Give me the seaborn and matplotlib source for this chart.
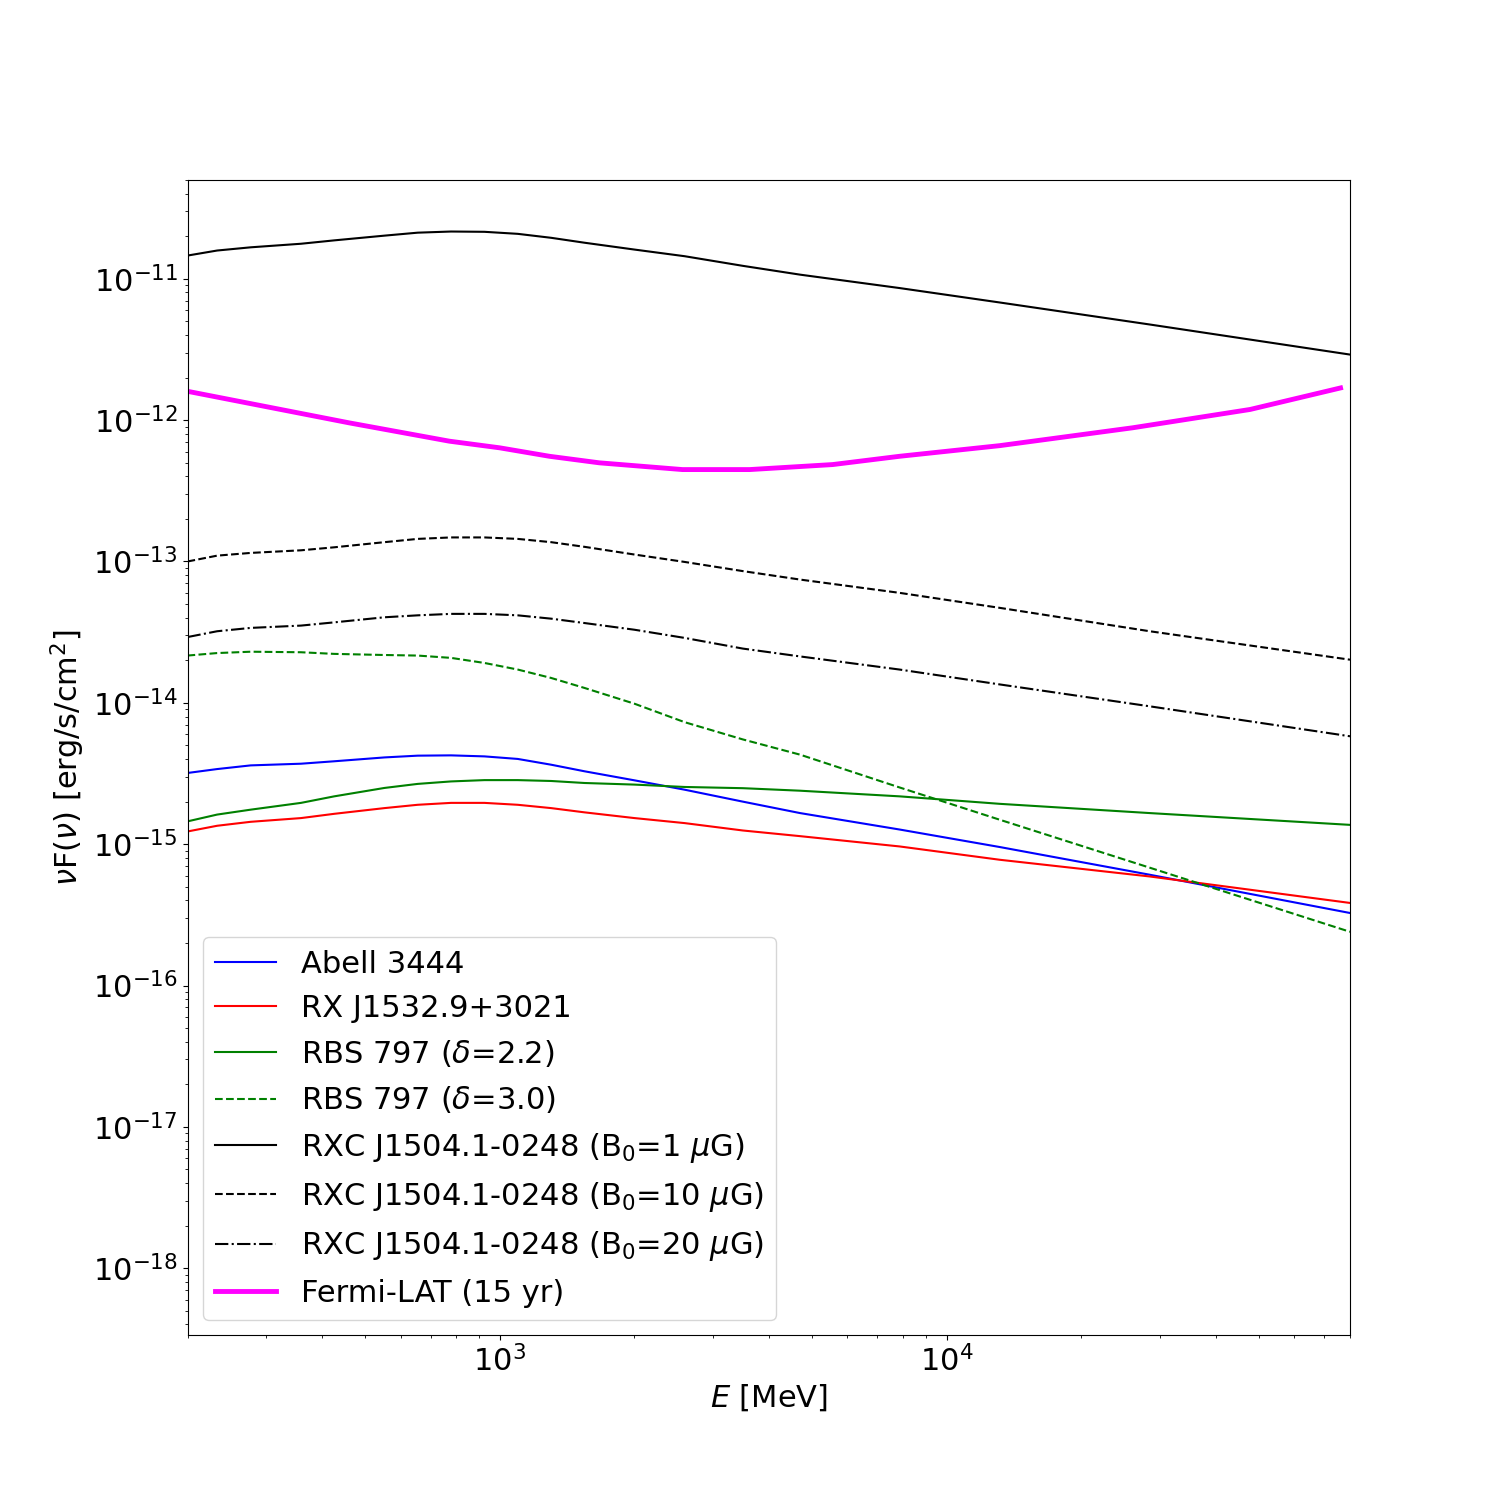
import matplotlib
matplotlib.use("Agg")
import matplotlib.pyplot as plt
import seaborn as sns
import pandas as pd

# Energies (MeV) for the model curves
energy = [200, 233, 277, 359, 426, 552, 655, 778, 924, 1097, 1303, 1547, 2002, 2592,
          3500, 4700, 7850, 13150, 28500, 80000]

abell3444 = [3.19e-15, 3.40e-15, 3.61e-15, 3.71e-15, 3.86e-15, 4.11e-15, 4.23e-15, 4.25e-15,
             4.18e-15, 4.01e-15, 3.65e-15, 3.28e-15, 2.83e-15, 2.43e-15,
             2.00e-15, 1.66e-15, 1.27e-15, 9.55e-16, 6.08e-16, 3.26e-16]
rxj1532 = [1.23e-15, 1.35e-15, 1.44e-15, 1.53e-15, 1.64e-15, 1.80e-15, 1.90e-15, 1.96e-15,
           1.96e-15, 1.90e-15, 1.80e-15, 1.68e-15, 1.53e-15, 1.41e-15,
           1.25e-15, 1.14e-15, 9.64e-16, 7.76e-16, 5.91e-16, 3.84e-16]
rbs797_d22 = [1.45e-15, 1.62e-15, 1.755e-15, 1.96e-15, 2.18e-15, 2.50e-15, 2.67e-15, 2.78e-15,
              2.84e-15, 2.84e-15, 2.80e-15, 2.71e-15, 2.64e-15, 2.54e-15,
              2.49e-15, 2.39e-15, 2.18e-15, 1.93e-15, 1.66e-15, 1.37e-15]
rbs797_d30 = [2.16e-14, 2.25e-14, 2.30e-14, 2.28e-14, 2.22e-14, 2.18e-14, 2.16e-14, 2.08e-14,
              1.915e-14, 1.72e-14, 1.50e-14, 1.275e-14, 9.86e-15, 7.30e-15,
              5.51e-15, 4.30e-15, 2.52e-15, 1.49e-15, 6.82e-16, 2.40e-16]
rxc1504_b1 = [1.46e-11, 1.585e-11, 1.67e-11, 1.77e-11, 1.87e-11, 2.02e-11, 2.12e-11, 2.16e-11,
              2.15e-11, 2.08e-11, 1.95e-11, 1.80e-11, 1.61e-11, 1.445e-11,
              1.235e-11, 1.07e-11, 8.6e-12, 6.8e-12, 4.75e-12, 2.91e-12]
rxc1504_b10 = [1.00e-13, 1.10e-13, 1.15e-13, 1.20e-13, 1.26e-13, 1.37e-13, 1.445e-13, 1.48e-13,
               1.48e-13, 1.445e-13, 1.37e-13, 1.27e-13, 1.12e-13, 9.93e-14,
               8.55e-14, 7.45e-14, 6.0e-14, 4.7e-14, 3.21e-14, 2.02e-14]
rxc1504_b20 = [2.92e-14, 3.21e-14, 3.39e-14, 3.52e-14, 3.71e-14, 4.03e-14, 4.16e-14, 4.26e-14,
               4.26e-14, 4.16e-14, 3.94e-14, 3.67e-14, 3.29e-14, 2.88e-14,
               2.42e-14, 2.13e-14, 1.72e-14, 1.35e-14, 9.45e-15, 5.8e-15]

# Fermi-LAT 15 yr sensitivity
fermi_energy = [200, 460, 771, 1000, 1292, 1670, 2564, 3624, 5560, 7850, 13150, 26100, 47800, 76200]
fermi_flux = [1.60e-12, 9.57e-13, 7.1e-13, 6.37e-13, 5.55e-13, 4.99e-13, 4.47e-13, 4.47e-13,
              4.85e-13, 5.55e-13, 6.6e-13, 8.83e-13, 1.19e-12, 1.69e-12]

y_major_ticks = [1e-18, 1e-17, 1e-16, 1e-15, 1e-14, 1e-13, 1e-12, 1e-11]

series = [
    ("Abell 3444", abell3444, "blue", "-"),
    ("RX J1532.9+3021", rxj1532, "red", "-"),
    (r"RBS 797 ($\delta$=2.2)", rbs797_d22, "green", "-"),
    (r"RBS 797 ($\delta$=3.0)", rbs797_d30, "green", "--"),
    (r"RXC J1504.1-0248 (B$_0$=1 $\mu$G)", rxc1504_b1, "black", "-"),
    (r"RXC J1504.1-0248 (B$_0$=10 $\mu$G)", rxc1504_b10, "black", "--"),
    (r"RXC J1504.1-0248 (B$_0$=20 $\mu$G)", rxc1504_b20, "black", "-."),
]

fig, ax = plt.subplots(figsize=(15, 15), dpi=100)

for label, vals, color, ls in series:
    df = pd.DataFrame({"E": energy, "F": vals})
    sns.lineplot(data=df, x="E", y="F", ax=ax, color=color, linestyle=ls,
                 linewidth=1.5, label=label, sort=True, errorbar=None)

dff = pd.DataFrame({"E": fermi_energy, "F": fermi_flux})
sns.lineplot(data=dff, x="E", y="F", ax=ax, color="#ff00ff", linewidth=3.5,
             label="Fermi-LAT (15 yr)", errorbar=None)

ax.set_xscale("log")
ax.set_yscale("log")
ax.set_xlim(200, 8e4)
ax.set_ylim(3.37e-19, 5e-11)
ax.set_yticks(y_major_ticks)
ax.set_ylim(3.37e-19, 5e-11)

ax.set_xlabel(r"$E$ [MeV]", fontsize=22)
ax.set_ylabel(r"$\nu$F($\nu$) [erg/s/cm$^2$]", fontsize=22)
ax.tick_params(axis="both", which="major", labelsize=22)

ax.legend(loc="lower left", fontsize=22)

fig.savefig("out.png", dpi=100)
